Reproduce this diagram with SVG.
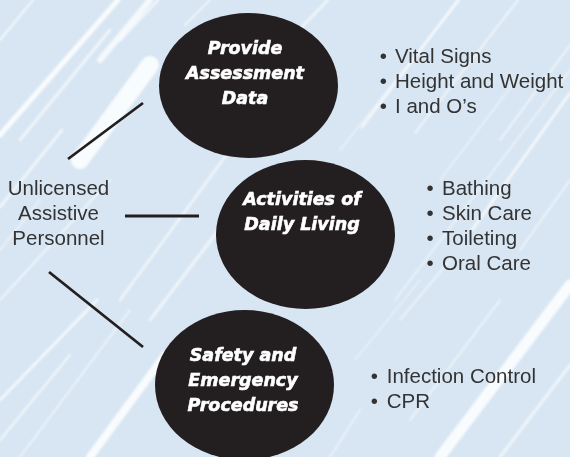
<svg xmlns="http://www.w3.org/2000/svg" width="570" height="457" viewBox="0 0 570 457">
<defs>
<filter id="soft" x="-10%" y="-10%" width="120%" height="120%"><feGaussianBlur stdDeviation="0.9"/></filter>
<style>
.bg{fill:#d8e6f3}
.st{stroke:#ffffff;stroke-linecap:round;fill:none}
.node{fill:#231f20}
.nt{font-family:"DejaVu Sans",sans-serif;font-weight:bold;font-style:italic;font-size:17.5px;fill:#ffffff;stroke:#ffffff;stroke-width:0.6;text-anchor:middle}
.lbl{font-family:"Liberation Sans",Arial,sans-serif;font-size:20.5px;fill:#333333}
.ctr{text-anchor:middle}
.conn{stroke:#231f20;stroke-width:2.8;stroke-linecap:butt}
</style>
</defs>
<rect class="bg" x="0" y="0" width="570" height="457"/>
<g id="streaks" filter="url(#soft)">
<line class="st" x1="0" y1="40" x2="33" y2="0" stroke-width="2" opacity="0.7"/>
<line class="st" x1="0" y1="135" x2="118" y2="0" stroke-width="5" opacity="0.85"/>
<line class="st" x1="20" y1="140" x2="110" y2="30" stroke-width="3" opacity="0.6"/>
<line class="st" x1="80" y1="160" x2="150" y2="65" stroke-width="18" opacity="0.85"/>
<line class="st" x1="100" y1="60" x2="150" y2="0" stroke-width="6" opacity="0.75"/>
<line class="st" x1="0" y1="207" x2="62" y2="130" stroke-width="3" opacity="0.6"/>
<line class="st" x1="120" y1="40" x2="158" y2="0" stroke-width="3" opacity="0.6"/>
<line class="st" x1="185" y1="25" x2="210" y2="0" stroke-width="2" opacity="0.6"/>
<line class="st" x1="292" y1="37" x2="328" y2="0" stroke-width="2.5" opacity="0.7"/>
<line class="st" x1="362" y1="127" x2="458" y2="0" stroke-width="2.5" opacity="0.7"/>
<line class="st" x1="415" y1="133" x2="518" y2="0" stroke-width="2" opacity="0.65"/>
<line class="st" x1="340" y1="150" x2="460" y2="0" stroke-width="1.5" opacity="0.5"/>
<line class="st" x1="472" y1="230" x2="570" y2="93" stroke-width="3" opacity="0.7"/>
<line class="st" x1="500" y1="140" x2="570" y2="45" stroke-width="2" opacity="0.6"/>
<line class="st" x1="395" y1="300" x2="570" y2="70" stroke-width="2" opacity="0.5"/>
<line class="st" x1="440" y1="457" x2="570" y2="285" stroke-width="11" opacity="0.85"/>
<line class="st" x1="500" y1="457" x2="570" y2="365" stroke-width="3" opacity="0.6"/>
<line class="st" x1="410" y1="420" x2="500" y2="300" stroke-width="2" opacity="0.55"/>
<line class="st" x1="90" y1="457" x2="165" y2="355" stroke-width="8" opacity="0.85"/>
<line class="st" x1="0" y1="400" x2="97" y2="300" stroke-width="3" opacity="0.7"/>
<line class="st" x1="0" y1="440" x2="70" y2="355" stroke-width="2.5" opacity="0.6"/>
<line class="st" x1="20" y1="457" x2="130" y2="310" stroke-width="2" opacity="0.55"/>
<line class="st" x1="0" y1="300" x2="110" y2="180" stroke-width="2" opacity="0.6"/>
<line class="st" x1="120" y1="300" x2="230" y2="150" stroke-width="2.5" opacity="0.65"/>
<line class="st" x1="150" y1="320" x2="230" y2="215" stroke-width="3" opacity="0.6"/>
<line class="st" x1="330" y1="457" x2="360" y2="410" stroke-width="2" opacity="0.5"/>
<line class="st" x1="400" y1="320" x2="450" y2="260" stroke-width="2" opacity="0.5"/>
<line class="st" x1="0" y1="250" x2="40" y2="200" stroke-width="2" opacity="0.5"/>
<line class="st" x1="440" y1="180" x2="520" y2="75" stroke-width="1.5" opacity="0.5"/>
<line class="st" x1="520" y1="250" x2="570" y2="180" stroke-width="2" opacity="0.55"/>
<line class="st" x1="355" y1="360" x2="420" y2="280" stroke-width="1.5" opacity="0.45"/>
</g>
<g id="connectors">
<line class="conn" x1="68" y1="159" x2="143" y2="103"/>
<line class="conn" x1="125" y1="216" x2="199" y2="216"/>
<line class="conn" x1="49" y1="272" x2="143" y2="347"/>
</g>
<g id="uap">
<text class="lbl ctr" x="58.5" y="195">Unlicensed</text>
<text class="lbl ctr" x="58.5" y="220">Assistive</text>
<text class="lbl ctr" x="58.5" y="245">Personnel</text>
</g>
<g id="assessment">
<ellipse class="node" cx="248.5" cy="85.5" rx="89.5" ry="72.5"/>
<text class="nt" x="245" y="53.5">Provide</text>
<text class="nt" x="245" y="78.5">Assessment</text>
<text class="nt" x="245" y="103.5">Data</text>
</g>
<g id="adl">
<ellipse class="node" cx="305.5" cy="234.5" rx="89.5" ry="74.5"/>
<text class="nt" x="302" y="204.5">Activities of</text>
<text class="nt" x="302" y="230">Daily Living</text>
</g>
<g id="safety">
<ellipse class="node" cx="244.5" cy="385" rx="89.5" ry="75"/>
<text class="nt" x="243" y="361">Safety and</text>
<text class="nt" x="243" y="386">Emergency</text>
<text class="nt" x="243" y="410.5">Procedures</text>
</g>
<g id="list-assessment">
<text class="lbl" x="379.7" y="63">•<tspan x="395">Vital Signs</tspan></text>
<text class="lbl" x="379.7" y="88">•<tspan x="395">Height and Weight</tspan></text>
<text class="lbl" x="379.7" y="113">•<tspan x="395">I and O’s</tspan></text>
</g>
<g id="list-adl">
<text class="lbl" x="426.4" y="195">•<tspan x="442">Bathing</tspan></text>
<text class="lbl" x="426.4" y="220">•<tspan x="442">Skin Care</tspan></text>
<text class="lbl" x="426.4" y="245">•<tspan x="442">Toileting</tspan></text>
<text class="lbl" x="426.4" y="270">•<tspan x="442">Oral Care</tspan></text>
</g>
<g id="list-safety">
<text class="lbl" x="370.7" y="383">•<tspan x="386.7">Infection Control</tspan></text>
<text class="lbl" x="370.7" y="408">•<tspan x="386.7">CPR</tspan></text>
</g>
</svg>
